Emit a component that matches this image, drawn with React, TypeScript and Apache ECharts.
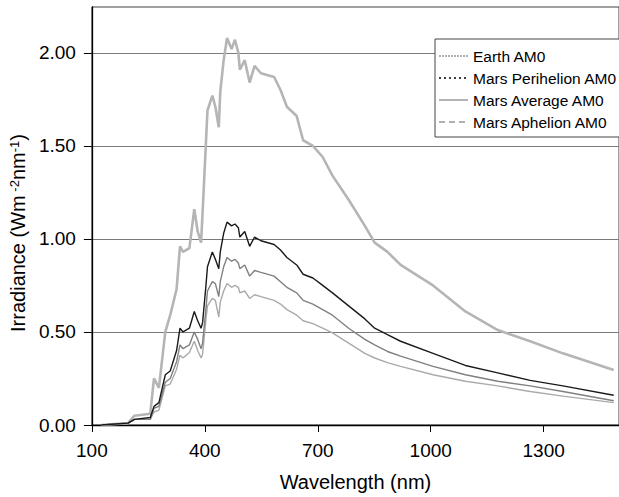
import React, { useEffect, useRef } from "react";
import * as echarts from "echarts";

const wavelengths = [125, 196, 213, 255, 265, 278, 295, 308, 325, 334, 342, 359, 372, 381, 390, 394, 403, 407, 420, 428, 437, 441, 450, 459, 471, 480, 489, 493, 506, 519, 532, 549, 584, 601, 618, 644, 661, 687, 713, 739, 782, 825, 851, 885, 920, 1006, 1092, 1178, 1264, 1351, 1486];
const earth = [0, 0.01, 0.05, 0.06, 0.25, 0.2, 0.5, 0.59, 0.73, 0.96, 0.93, 0.95, 1.16, 1.04, 0.98, 1.14, 1.52, 1.69, 1.77, 1.71, 1.6, 1.79, 1.96, 2.08, 2.02, 2.07, 2.0, 1.91, 1.96, 1.84, 1.93, 1.89, 1.87, 1.8, 1.71, 1.66, 1.53, 1.5, 1.44, 1.34, 1.21, 1.07, 0.98, 0.93, 0.86, 0.75, 0.61, 0.51, 0.45, 0.385, 0.295];
const perihelion = [0, 0.01, 0.03, 0.04, 0.1, 0.12, 0.27, 0.29, 0.4, 0.52, 0.5, 0.52, 0.61, 0.56, 0.52, 0.55, 0.75, 0.85, 0.93, 0.89, 0.84, 0.93, 1.03, 1.09, 1.07, 1.08, 1.06, 1.01, 1.04, 0.96, 1.01, 0.99, 0.97, 0.94, 0.9, 0.86, 0.81, 0.79, 0.75, 0.71, 0.64, 0.57, 0.52, 0.485, 0.45, 0.385, 0.32, 0.28, 0.24, 0.21, 0.16];
const average = [0, 0.01, 0.03, 0.03, 0.09, 0.1, 0.23, 0.25, 0.34, 0.43, 0.41, 0.43, 0.5, 0.46, 0.41, 0.44, 0.625, 0.72, 0.77, 0.76, 0.69, 0.77, 0.85, 0.9, 0.88, 0.89, 0.87, 0.84, 0.86, 0.8, 0.83, 0.82, 0.8, 0.77, 0.74, 0.71, 0.67, 0.65, 0.62, 0.59, 0.52, 0.46, 0.43, 0.395, 0.37, 0.315, 0.27, 0.235, 0.21, 0.18, 0.13];
const aphelion = [0, 0.01, 0.03, 0.03, 0.07, 0.08, 0.21, 0.22, 0.3, 0.375, 0.36, 0.39, 0.45, 0.4, 0.36, 0.38, 0.57, 0.64, 0.68, 0.67, 0.58, 0.66, 0.72, 0.76, 0.74, 0.75, 0.74, 0.71, 0.72, 0.68, 0.7, 0.69, 0.67, 0.65, 0.62, 0.59, 0.56, 0.545, 0.52, 0.495, 0.44, 0.385, 0.36, 0.335, 0.315, 0.27, 0.235, 0.21, 0.18, 0.155, 0.12];

const seriesNames = ["Earth AM0", "Mars Perihelion AM0", "Mars Average AM0", "Mars Aphelion AM0"];
const xTicks = [100, 400, 700, 1000, 1300];
const yTicks = [0, 0.5, 1, 1.5, 2];

const pair = (ys: number[]) => wavelengths.map((x, i) => [x, ys[i]]);

export default function App() {
  const ref = useRef<HTMLDivElement>(null);
  useEffect(() => {
    if (!ref.current) return;
    const chart = echarts.init(ref.current, undefined, { renderer: "svg" });
    const font = "'Liberation Sans', Arial, sans-serif";
    chart.setOption({
      animation: false,
      textStyle: { fontFamily: font },
      grid: {
        left: 83, top: 7, right: -6, bottom: 70,
        show: true, borderColor: "#404040", borderWidth: 1, backgroundColor: "transparent",
      },
      legend: {
        orient: "vertical",
        left: 435,
        top: 39,
        padding: [9, 8, 7, 3],
        itemGap: 6,
        itemWidth: 29,
        itemHeight: 15,
        backgroundColor: "#fff",
        borderColor: "#444",
        borderWidth: 1,
        textStyle: { fontSize: 15.5, color: "#000", fontFamily: font },
        data: [
          { name: seriesNames[0], itemStyle: { opacity: 0 }, lineStyle: { color: "#b0b0b0", width: 2, type: [2, 1] } },
          { name: seriesNames[1], itemStyle: { opacity: 0 }, lineStyle: { color: "#000", width: 1.5, type: [2, 3] } },
          { name: seriesNames[2], itemStyle: { opacity: 0 }, lineStyle: { color: "#808080", width: 1.2, type: "solid" } },
          { name: seriesNames[3], itemStyle: { opacity: 0 }, lineStyle: { color: "#b0b0b0", width: 2, type: [6, 4] } },
        ],
      },
      xAxis: {
        type: "value",
        min: 100,
        max: 1500,
        name: "Wavelength (nm)",
        nameLocation: "middle",
        nameGap: 47,
        nameTextStyle: { fontSize: 20, color: "#000", fontFamily: font },
        axisLine: { onZero: false, lineStyle: { color: "#000", width: 1.3 } },
        axisTick: { show: true, length: 7, customValues: xTicks, lineStyle: { color: "#000" } },
        axisLabel: { customValues: xTicks, fontSize: 19, color: "#000", margin: 16, fontFamily: font, formatter: (v: number) => String(v) },
        splitLine: { show: false },
      },
      yAxis: {
        type: "value",
        min: 0,
        max: 2.246,
        interval: 0.5,
        name: "Irradiance (Wm{sup| -2}nm{sup|-1})",
        nameLocation: "middle",
        nameGap: 56,
        nameTextStyle: {
          fontSize: 20, color: "#000", fontFamily: font, padding: [0, 34, 0, 0],
          rich: { sup: { fontSize: 13, verticalAlign: "top", lineHeight: 13, color: "#000", fontFamily: font } },
        },
        axisLine: { show: true, lineStyle: { color: "#000", width: 1.3 } },
        axisTick: { show: true, length: 8, customValues: yTicks, lineStyle: { color: "#000" } },
        axisLabel: {
          customValues: yTicks, fontSize: 19, color: "#000", margin: 16, fontFamily: font,
          formatter: (v: number) => v.toFixed(2),
        },
        splitLine: { show: true, lineStyle: { color: "#7a7a7a", width: 1.2 } },
      },
      series: [
        { name: seriesNames[0], type: "line", data: pair(earth), showSymbol: false, symbol: "none", lineStyle: { color: "#b5b5b5", width: 2.6 }, itemStyle: { color: "#b5b5b5" }, z: 2 },
        { name: seriesNames[1], type: "line", data: pair(perihelion), showSymbol: false, symbol: "none", lineStyle: { color: "#1a1a1a", width: 1.4 }, itemStyle: { color: "#1a1a1a" }, z: 5 },
        { name: seriesNames[2], type: "line", data: pair(average), showSymbol: false, symbol: "none", lineStyle: { color: "#808080", width: 1.4 }, itemStyle: { color: "#808080" }, z: 4 },
        { name: seriesNames[3], type: "line", data: pair(aphelion), showSymbol: false, symbol: "none", lineStyle: { color: "#aaaaaa", width: 1.4 }, itemStyle: { color: "#aaaaaa" }, z: 3 },
      ],
    });
    return () => chart.dispose();
  }, []);
  return <div ref={ref} style={{ position: "absolute", left: 0, top: 0, width: 619, height: 497 }} />;
}
